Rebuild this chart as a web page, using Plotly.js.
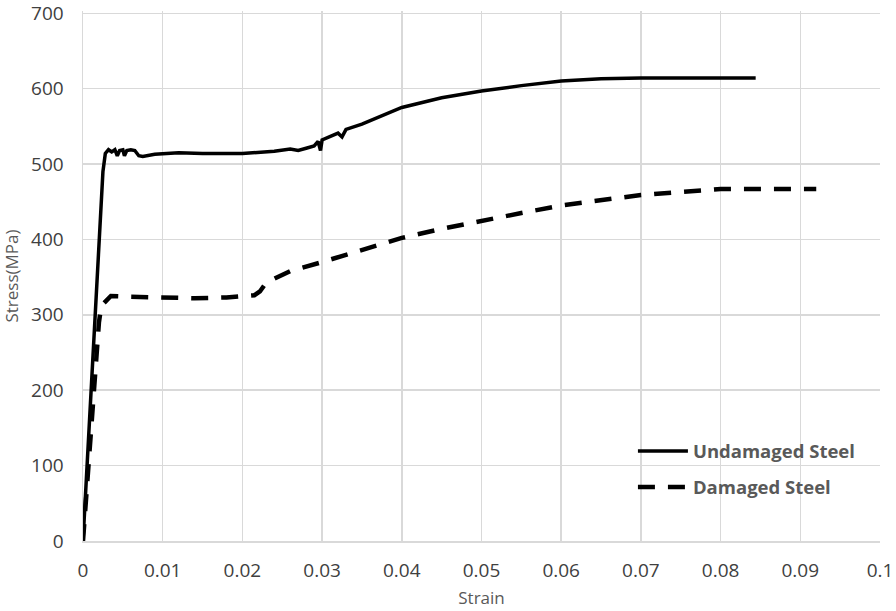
<!DOCTYPE html>
<html>
<head>
<meta charset="utf-8">
<script src="https://cdn.plot.ly/plotly-3.0.1.min.js"></script>
<style>
  html, body { margin: 0; padding: 0; background: #fff; }
  #chart { width: 896px; height: 611px; }
</style>
</head>
<body>
<div id="chart"></div>
<script>
// Undamaged steel: strain / stress (MPa)
const undamagedStrain = [0, 0.0010, 0.0020, 0.0025, 0.0028, 0.0032, 0.0036, 0.0040, 0.0043, 0.0046, 0.0050, 0.0052, 0.0055, 0.0060, 0.0065, 0.0070, 0.0075, 0.0090, 0.0120, 0.0150, 0.0200, 0.0240, 0.0260, 0.0270, 0.0280, 0.0290, 0.0295, 0.0298, 0.0300, 0.0310, 0.0320, 0.0325, 0.0330, 0.0350, 0.0400, 0.0450, 0.0500, 0.0550, 0.0600, 0.0650, 0.0700, 0.0780, 0.0844];
const undamagedStress = [0, 190, 383, 490, 514, 519, 516, 519, 511, 518, 519, 511, 518, 519, 518, 511, 510, 513, 515, 514, 514, 517, 520, 518, 521, 524, 530, 518, 532, 537, 541, 536, 546, 553, 575, 588, 597, 604, 610, 613, 614, 614, 614];

// Damaged steel: strain / stress (MPa)
const damagedStrain = [0, 0.0010, 0.0020, 0.0023, 0.0035, 0.0060, 0.0100, 0.0140, 0.0180, 0.0200, 0.0215, 0.0222, 0.0228, 0.0240, 0.0260, 0.0300, 0.0350, 0.0400, 0.0450, 0.0500, 0.0550, 0.0600, 0.0650, 0.0700, 0.0750, 0.0800, 0.0850, 0.0920];
const damagedStress = [0, 140, 290, 312, 325, 324, 323, 322, 323, 324, 326, 331, 340, 348, 358, 370, 386, 402, 414, 425, 435, 445, 452, 459, 463, 467, 467, 467];

const xTicks = [0, 0.01, 0.02, 0.03, 0.04, 0.05, 0.06, 0.07, 0.08, 0.09, 0.1];
const xTickLabels = ['0', '0.01', '0.02', '0.03', '0.04', '0.05', '0.06', '0.07', '0.08', '0.09', '0.1'];
const yTicks = [0, 100, 200, 300, 400, 500, 600, 700];

const traces = [
  {
    x: undamagedStrain, y: undamagedStress, mode: 'lines', name: '<b>Undamaged Steel</b>',
    legendgroup: 'a', line: { color: '#000', width: 3.5 }
  },
  {
    x: damagedStrain, y: damagedStress, mode: 'lines', name: '<b>Damaged Steel</b>',
    legendgroup: 'b', line: { color: '#000', width: 4.5, dash: '17px,13px' }
  }
];

const layout = {
  width: 896, height: 611,
  margin: { l: 83, r: 16, t: 11, b: 70 },
  paper_bgcolor: '#fff', plot_bgcolor: '#fff',
  font: { family: 'Open Sans, sans-serif', color: '#595959', size: 18 },
  xaxis: {
    range: [0, 0.1], tickvals: xTicks, ticktext: xTickLabels,
    showgrid: true, gridcolor: '#d9d9d9', gridwidth: 1.5,
    showline: true, linecolor: '#d9d9d9', linewidth: 1.5,
    zeroline: false, ticks: '', ticklabelstandoff: 12, ticklabeloverflow: 'allow',
    tickfont: { size: 19, color: '#404040' },
    title: { text: 'Strain', font: { size: 17, color: '#595959' }, standoff: 10 }
  },
  yaxis: {
    range: [0, 703], tickvals: yTicks,
    showgrid: true, gridcolor: '#d9d9d9', gridwidth: 1.5,
    showline: true, linecolor: '#d9d9d9', linewidth: 1.5,
    zeroline: false, ticks: '', ticklabelstandoff: 14, ticklabeloverflow: 'allow',
    tickfont: { size: 19, color: '#404040' },
    title: { text: 'Stress(MPa)', font: { size: 17, color: '#595959' }, standoff: 8 }
  },
  showlegend: true,
  legend: {
    x: 0.69, y: 0.205, xanchor: 'left', yanchor: 'top',
    bgcolor: 'rgba(0,0,0,0)', tracegroupgap: 9, traceorder: 'grouped',
    font: { size: 18.5, color: '#595959' }, itemwidth: 50
  }
};

Plotly.newPlot('chart', traces, layout, { displayModeBar: false, staticPlot: true });
</script>
</body>
</html>
